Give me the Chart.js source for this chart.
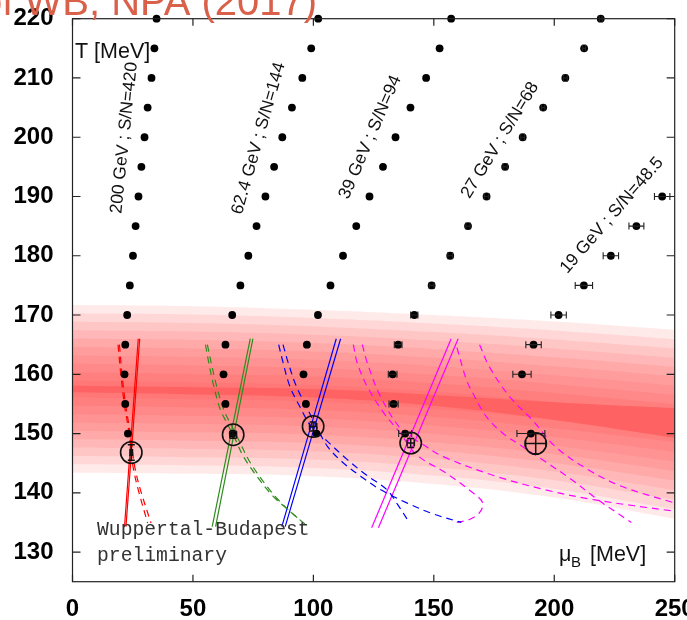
<!DOCTYPE html>
<html>
<head>
<meta charset="utf-8">
<title>Isentropes and freeze-out, T vs mu_B</title>
<script src="https://cdn.jsdelivr.net/npm/chart.js@4.4.1/dist/chart.umd.min.js"></script>
<style>
  html, body { margin: 0; padding: 0; background: #fff; overflow: hidden; }
  #wrap { width: 687px; height: 620px; }
</style>
</head>
<body>
<div id="wrap"><canvas id="chart"></canvas></div>
<script>
// ---- data (mu_B in MeV, T in MeV) ----
const xTicks = [0, 50, 100, 150, 200, 250];
const yTicks = [130, 140, 150, 160, 170, 180, 190, 200, 210, 220];

// lattice isentropes, one mu_B per temperature step
const tempGrid = [150, 155, 160, 165, 170, 175, 180, 185, 190, 195, 200, 205, 210, 215, 220];
const mu200 = [23.0, 21.9, 21.6, 21.9, 22.7, 23.8, 25.1, 26.2, 27.4, 28.6, 29.9, 31.2, 32.8, 34.0, 34.9];
const mu62 = [66.5, 63.5, 62.7, 63.5, 66.3, 69.7, 73.0, 76.4, 80.1, 83.7, 87.1, 91.1, 95.4, 99.1, 102.0];
const mu39 = [101.3, 96.9, 95.9, 97.3, 101.9, 107.1, 112.3, 117.8, 123.3, 128.9, 134.1, 140.3, 146.8, 152.4, 157.2];
const mu27 = [138.1, 133.3, 132.9, 135.2, 141.9, 149.1, 156.8, 164.2, 171.9, 179.6, 186.9, 195.4, 204.6, 212.4, 219.3];
const mu27Err = [2.7, 1.9, 1.8, 1.6, 1.5, 1.0, 1.0, 0.9, 0.9, 0.9, 0.8, 0.7, 0.8, 0.6, 0.6];
const temp19 = [150, 160, 165, 170, 175, 180, 185, 190];
const mu19 = [190.3, 186.6, 191.4, 201.8, 212.3, 223.5, 234.1, 244.8];
const mu19Err = [5.8, 3.8, 3.2, 3.2, 3.6, 3.2, 3.1, 3.2];

// freeze-out points (open circles)
const freezeMu = [24.4, 66.7, 99.9, 140.4, 192.3];
const freezeT = [146.8, 149.8, 151.2, 148.4, 148.3];
const freezeMuErr = [0.5, 1.4, 1.5, 1.5, 4.2];
const freezeTErr = [1.3, 0.6, 0.75, 0.75, 1.7];

// transition band
const bandMu = [0, 50, 100, 150, 200, 250];
const bandMid = [157.5, 157.2, 156.8, 155.6, 153.8, 151.8];
const bandCore = [0.55, 0.6, 0.7, 0.9, 1.5, 2.5];
const bandTop = [171.7, 171.5, 170.9, 170.0, 168.9, 167.5];
const bandBottom = [143.4, 143.2, 142.8, 141.5, 139.2, 135.6];

// contour lines, [mu_B, T]
const redSolidA = [[21.6, 134.3], [27.3, 166]];
const redSolidB = [[22.2, 134.3], [27.9, 166]];
const redDashA = [[18.9, 165], [20.0, 160.2], [21.5, 155], [23.5, 150], [25.1, 144.5], [27.3, 140.5], [31.2, 134.9]];
const redDashB = [[19.5, 165], [20.5, 160.2], [22.0, 155], [24.0, 150], [25.8, 144.5], [28.2, 140.5], [32.6, 134.9]];
const greenSolidA = [[58.0, 134.3], [73.8, 166]];
const greenSolidB = [[59.4, 134.3], [74.9, 166]];
const greenDashA = [[55.2, 165], [56.6, 161.9], [58.7, 157.9], [61.4, 154], [64.1, 151.8], [67.6, 149], [71, 146.1], [76.5, 142.8], [83.3, 139.4], [90.2, 136.9], [97.7, 134.3]];
const greenDashB = [[56.0, 165], [57.6, 161.9], [59.9, 157.9], [62.8, 154], [65.8, 151.5], [69.5, 148.5], [73.2, 145.5], [79, 142], [85, 139], [90.5, 136.8], [94.5, 135.4]];
const blueSolidA = [[86.9, 134.3], [109.5, 166]];
const blueSolidB = [[88.3, 134.3], [111.3, 166]];
const blueDashA = [[85.6, 165], [87.4, 162], [90.2, 158], [94.3, 154.6], [99.1, 151.2], [105.5, 148.8], [114.1, 145.6], [122, 143], [130.6, 140.5], [135, 138], [139.5, 135.2]];
const blueDashB = [[87.4, 165], [89.5, 162], [92.9, 158], [97, 154.6], [101.5, 151], [105.9, 147.8], [112, 145.2], [119.6, 142.8], [128, 140.5], [138.8, 138.3], [150, 136.4], [161.4, 135.0]];
const magSolidA = [[124.2, 134.1], [157.2, 166]];
const magSolidB = [[127.0, 134.1], [160.1, 166]];
const magDashLoop = [[116.6, 165], [118.2, 161.9], [122.4, 157.9], [129.2, 153.5], [136, 150.1], [142.9, 146.4], [155.2, 143.3], [166.2, 140], [170.3, 138.3], [168.9, 136.6], [164.8, 135.5], [159.4, 135.0]];
const magDashLong = [[120.3, 165], [122.4, 161.9], [127.8, 156.3], [136.7, 150.6], [145.7, 148.1], [153.9, 146.1], [175.8, 142.8], [196.4, 140.5], [216.9, 138.8], [249.7, 136.9]];
const magDashRightA = [[159.6, 164.5], [163.5, 159.1], [166.2, 156.8], [171.7, 152.9], [178.5, 150.1], [186.8, 147.8], [195, 145.6], [207.3, 142.2], [218.2, 138.8], [232, 135]];
const magDashRightB = [[169, 165], [173, 161.3], [181.3, 156.3], [190.9, 152.3], [200.4, 147.8], [214.1, 143.9], [227.9, 141.1], [249.8, 138.3]];

const isentropeLabels = ['200 GeV ; S/N=420', '62.4 GeV ; S/N=144', '39 GeV ; S/N=94', '27 GeV ; S/N=68', '19 GeV ; S/N=48.5'];

// annotation layout (anchor in data units, angle in degrees)
const labelAnchors = [
  { mu: 21.5, t: 199.9, angle: -84 },
  { mu: 77.3, t: 199.8, angle: -74 },
  { mu: 123.6, t: 200.0, angle: -66.6 },
  { mu: 177.5, t: 199.5, angle: -58.5 },
  { mu: 223.9, t: 186.8, angle: -49 },
];

const SANS = "'Liberation Sans', Arial, Helvetica, sans-serif";
const RED = '#ff0000';
const GREEN = '#2e8b1e';
const BLUE = '#0000ff';
const MAGENTA = '#ff00ff';
const LAYERS = 10;

function toPoints(xs, ys) {
  return xs.map((x, i) => ({ x, y: ys[i] }));
}

function fromPairs(list) {
  return list.map(([x, y]) => ({ x, y }));
}

function curve(list, color, dashed) {
  return {
    data: fromPairs(list),
    borderColor: color,
    borderWidth: 1.2,
    borderDash: dashed ? [7, 5] : [],
    pointRadius: 0,
    fill: false,
    tension: 0.35,
    order: 10,
  };
}

function dots(xs, ys) {
  return {
    data: toPoints(xs, ys),
    showLine: false,
    pointRadius: 3.9,
    pointBackgroundColor: '#000',
    pointBorderWidth: 0,
    clip: false,
    order: 2,
  };
}

const datasets = [];

// band: nested translucent layers, outermost first
for (let k = LAYERS; k >= 1; k--) {
  const f = k / LAYERS;
  datasets.push({
    data: bandMu.map((m, i) => ({ x: m, y: bandMid[i] + (bandTop[i] - bandMid[i]) * f })),
    fill: '+1',
    backgroundColor: 'rgba(255, 60, 60, 0.105)',
    borderWidth: 0,
    pointRadius: 0,
    tension: 0.4,
    order: 20,
  });
  datasets.push({
    data: bandMu.map((m, i) => ({ x: m, y: bandMid[i] - (bandMid[i] - bandBottom[i]) * f })),
    fill: false,
    borderWidth: 0,
    pointRadius: 0,
    tension: 0.4,
    order: 20,
  });
}
datasets.push({
  data: bandMu.map((m, i) => ({ x: m, y: bandMid[i] + bandCore[i] })),
  fill: '+1',
  backgroundColor: '#ff6262',
  borderWidth: 0,
  pointRadius: 0,
  tension: 0.4,
  order: 15,
});
datasets.push({
  data: bandMu.map((m, i) => ({ x: m, y: bandMid[i] - bandCore[i] })),
  fill: false,
  borderWidth: 0,
  pointRadius: 0,
  tension: 0.4,
  order: 15,
});

[
  [redSolidA, RED, false], [redSolidB, RED, false], [redDashA, RED, true], [redDashB, RED, true],
  [greenSolidA, GREEN, false], [greenSolidB, GREEN, false], [greenDashA, GREEN, true], [greenDashB, GREEN, true],
  [blueSolidA, BLUE, false], [blueSolidB, BLUE, false], [blueDashA, BLUE, true], [blueDashB, BLUE, true],
  [magSolidA, MAGENTA, false], [magSolidB, MAGENTA, false], [magDashLoop, MAGENTA, true], [magDashLong, MAGENTA, true],
  [magDashRightA, MAGENTA, true], [magDashRightB, MAGENTA, true],
].forEach(([list, color, dashed]) => datasets.push(curve(list, color, dashed)));

datasets.push(dots(mu200, tempGrid));
datasets.push(dots(mu62, tempGrid));
datasets.push(dots(mu39, tempGrid));
datasets.push(dots(mu27, tempGrid));
datasets.push(dots(mu19, temp19));

datasets.push({
  data: toPoints(freezeMu, freezeT),
  showLine: false,
  pointRadius: 10.7,
  pointBackgroundColor: 'rgba(0,0,0,0)',
  pointBorderColor: '#111',
  pointBorderWidth: 1.6,
  clip: false,
  order: 1,
});

const decor = {
  id: 'decor',
  beforeDraw(chart) {
    const { ctx, width, height } = chart;
    ctx.save();
    ctx.fillStyle = '#fff';
    ctx.fillRect(0, 0, width, height);
    ctx.restore();
  },
  afterDatasetsDraw(chart) {
    const { ctx, chartArea: a, scales: { x, y } } = chart;
    ctx.save();

    // horizontal error bars on the 27 and 19 GeV isentropes
    ctx.strokeStyle = '#222';
    ctx.lineWidth = 1.1;
    const hbar = (m, t, e) => {
      const x0 = x.getPixelForValue(m - e);
      const x1 = x.getPixelForValue(m + e);
      const py = y.getPixelForValue(t);
      ctx.beginPath();
      ctx.moveTo(x0, py); ctx.lineTo(x1, py);
      ctx.moveTo(x0, py - 3.5); ctx.lineTo(x0, py + 3.5);
      ctx.moveTo(x1, py - 3.5); ctx.lineTo(x1, py + 3.5);
      ctx.stroke();
    };
    mu27.forEach((m, i) => hbar(m, tempGrid[i], mu27Err[i]));
    mu19.forEach((m, i) => hbar(m, temp19[i], mu19Err[i]));

    // error crosses inside the freeze-out circles
    ctx.strokeStyle = '#111';
    ctx.lineWidth = 1.5;
    freezeMu.forEach((m, i) => {
      const cx = x.getPixelForValue(m);
      const cy = y.getPixelForValue(freezeT[i]);
      const dx = x.getPixelForValue(m + freezeMuErr[i]) - cx;
      const dy = cy - y.getPixelForValue(freezeT[i] + freezeTErr[i]);
      ctx.beginPath();
      ctx.moveTo(cx - dx, cy); ctx.lineTo(cx + dx, cy);
      ctx.moveTo(cx, cy - dy); ctx.lineTo(cx, cy + dy);
      ctx.moveTo(cx - dx, cy - 3.5); ctx.lineTo(cx - dx, cy + 3.5);
      ctx.moveTo(cx + dx, cy - 3.5); ctx.lineTo(cx + dx, cy + 3.5);
      ctx.moveTo(cx - 3.5, cy - dy); ctx.lineTo(cx + 3.5, cy - dy);
      ctx.moveTo(cx - 3.5, cy + dy); ctx.lineTo(cx + 3.5, cy + dy);
      ctx.stroke();
    });

    // frame with inward ticks
    ctx.strokeStyle = '#222';
    ctx.lineWidth = 1.2;
    ctx.strokeRect(a.left, a.top, a.right - a.left, a.bottom - a.top);
    ctx.beginPath();
    yTicks.forEach((v) => {
      const py = y.getPixelForValue(v);
      ctx.moveTo(a.left, py); ctx.lineTo(a.left + 8, py);
      ctx.moveTo(a.right, py); ctx.lineTo(a.right - 8, py);
    });
    xTicks.forEach((v) => {
      const px = x.getPixelForValue(v);
      ctx.moveTo(px, a.bottom); ctx.lineTo(px, a.bottom - 7);
      ctx.moveTo(px, a.top); ctx.lineTo(px, a.top + 7);
    });
    ctx.stroke();

    // isentrope labels
    ctx.fillStyle = '#111';
    ctx.font = `17.5px ${SANS}`;
    ctx.textAlign = 'center';
    ctx.textBaseline = 'middle';
    isentropeLabels.forEach((text, i) => {
      const p = labelAnchors[i];
      ctx.save();
      ctx.translate(x.getPixelForValue(p.mu), y.getPixelForValue(p.t));
      ctx.rotate(p.angle * Math.PI / 180);
      ctx.fillText(text, 0, 0);
      ctx.restore();
    });

    // axis titles inside the frame
    ctx.textAlign = 'left';
    ctx.textBaseline = 'alphabetic';
    ctx.font = `21.5px ${SANS}`;
    ctx.fillText('T [MeV]', a.left + 2.5, 58);
    ctx.fillText('\u03bc', 559, 561);
    ctx.fillText('[MeV]', 590, 561);
    ctx.font = `15px ${SANS}`;
    ctx.fillText('B', 571, 567);

    // watermark
    ctx.fillStyle = '#333';
    ctx.font = "19.7px 'Liberation Mono', 'Courier New', monospace";
    ctx.fillText('Wuppertal-Budapest', 97, 535);
    ctx.fillText('preliminary', 97, 561);

    // cropped heading at the very top
    ctx.fillStyle = '#d9614a';
    ctx.font = `40px ${SANS}`;
    ctx.fillText('of WB, NPA (2017)', -20, 15);

    ctx.restore();
  },
};

new Chart(document.getElementById('chart'), {
  type: 'line',
  data: { datasets },
  options: {
    responsive: true,
    maintainAspectRatio: false,
    devicePixelRatio: 1,
    animation: false,
    layout: { padding: { top: 18.7, right: 7, left: 0, bottom: 0 } },
    plugins: { legend: { display: false }, tooltip: { enabled: false } },
    scales: {
      x: {
        type: 'linear',
        min: 0,
        max: 250,
        grid: { display: false, drawTicks: false },
        border: { display: false },
        ticks: { font: { family: SANS, size: 24, weight: 'bold' }, color: '#000', padding: 13, maxRotation: 0, autoSkip: false },
        afterBuildTicks: (s) => { s.ticks = xTicks.map((v) => ({ value: v })); },
        afterFit: (s) => { s.height = 38.3; s.paddingLeft = 0; s.paddingRight = 0; },
      },
      y: {
        type: 'linear',
        min: 125,
        max: 220,
        grid: { display: false, drawTicks: false },
        border: { display: false },
        ticks: { font: { family: SANS, size: 24, weight: 'bold' }, color: '#000', padding: 19, autoSkip: false },
        afterBuildTicks: (s) => { s.ticks = yTicks.map((v) => ({ value: v })); },
        afterFit: (s) => { s.width = 72.5; s.paddingTop = 0; s.paddingBottom = 0; },
      },
    },
  },
  plugins: [decor],
});
</script>
</body>
</html>
